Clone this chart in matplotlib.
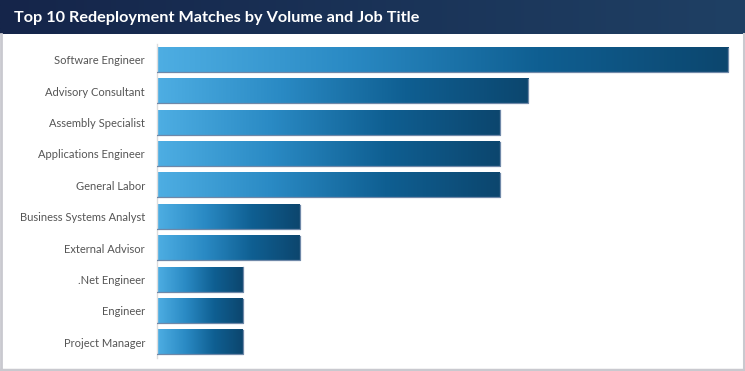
import numpy as np
import matplotlib.pyplot as plt
from matplotlib.colors import LinearSegmentedColormap

plt.rcParams['font.family'] = ['Lato', 'DejaVu Sans']

titles = ["Software Engineer", "Advisory Consultant", "Assembly Specialist",
          "Applications Engineer", "General Labor", "Business Systems Analyst",
          "External Advisor", ".Net Engineer", "Engineer", "Project Manager"]
matches = [20, 13, 12, 12, 12, 5, 5, 3, 3, 3]

W, H = 745, 371
fig = plt.figure(figsize=(W / 100, H / 100), dpi=100)
fig.patch.set_facecolor('white')

# light grey frame on left, right and bottom of the body (below the header)
border = '#c9c9cf'
top = 1 - 34 / H
fig.add_artist(plt.Line2D([1 / W, 1 / W], [0, top], color=border, linewidth=2))
fig.add_artist(plt.Line2D([1 - 1.5 / W, 1 - 1.5 / W], [0, top], color=border, linewidth=2.2))
fig.add_artist(plt.Line2D([0, 1], [1.5 / H, 1.5 / H], color=border, linewidth=2.5))

# header band
hdr = fig.add_axes([0, top, 1, 34 / H])
hdr_cmap = LinearSegmentedColormap.from_list('hdr', ['#15254a', '#1f4064'])
hdr.imshow(np.linspace(0, 1, 256).reshape(1, -1), cmap=hdr_cmap,
           aspect='auto', extent=[0, 1, 0, 1])
hdr.set_axis_off()
hdr.text(14 / W, 0.48, "Top 10 Redeployment Matches by Volume and Job Title",
         color='white', fontsize=11.7, fontweight='bold', va='center', ha='left')

# bars, each with its own left-to-right gradient
ax = fig.add_axes([157 / W, 13 / H, 586 / W, 314 / H])
bar_cmap = LinearSegmentedColormap.from_list('bar', ['#4eaee3', '#2a8ac4', '#0f5f92', '#0c466e'])
grad = np.linspace(0, 1, 256).reshape(1, -1)
h = 0.77
for i, v in enumerate(matches):
    ax.imshow(grad, cmap=bar_cmap, aspect='auto',
              extent=[0, v, i + h / 2, i - h / 2], zorder=2)
    ax.plot([0, v, v], [i + h / 2, i + h / 2, i - h / 2],
            color='#6f88a8', linewidth=0.9, zorder=3)

ax.set_xlim(0, 20 * 586 / 571)
ax.set_ylim(len(titles) - 0.5, -0.5)
ax.set_yticks(range(len(titles)))
ax.set_yticklabels(titles, fontsize=8, color='#555555')
ax.tick_params(axis='y', length=0, pad=8.6)
ax.set_xticks([])
for s in ['top', 'right', 'bottom']:
    ax.spines[s].set_visible(False)
ax.spines['left'].set_color('#dddddd')
ax.spines['left'].set_linewidth(1)
ax.set_facecolor('none')

fig.savefig('out.png', dpi=100)
